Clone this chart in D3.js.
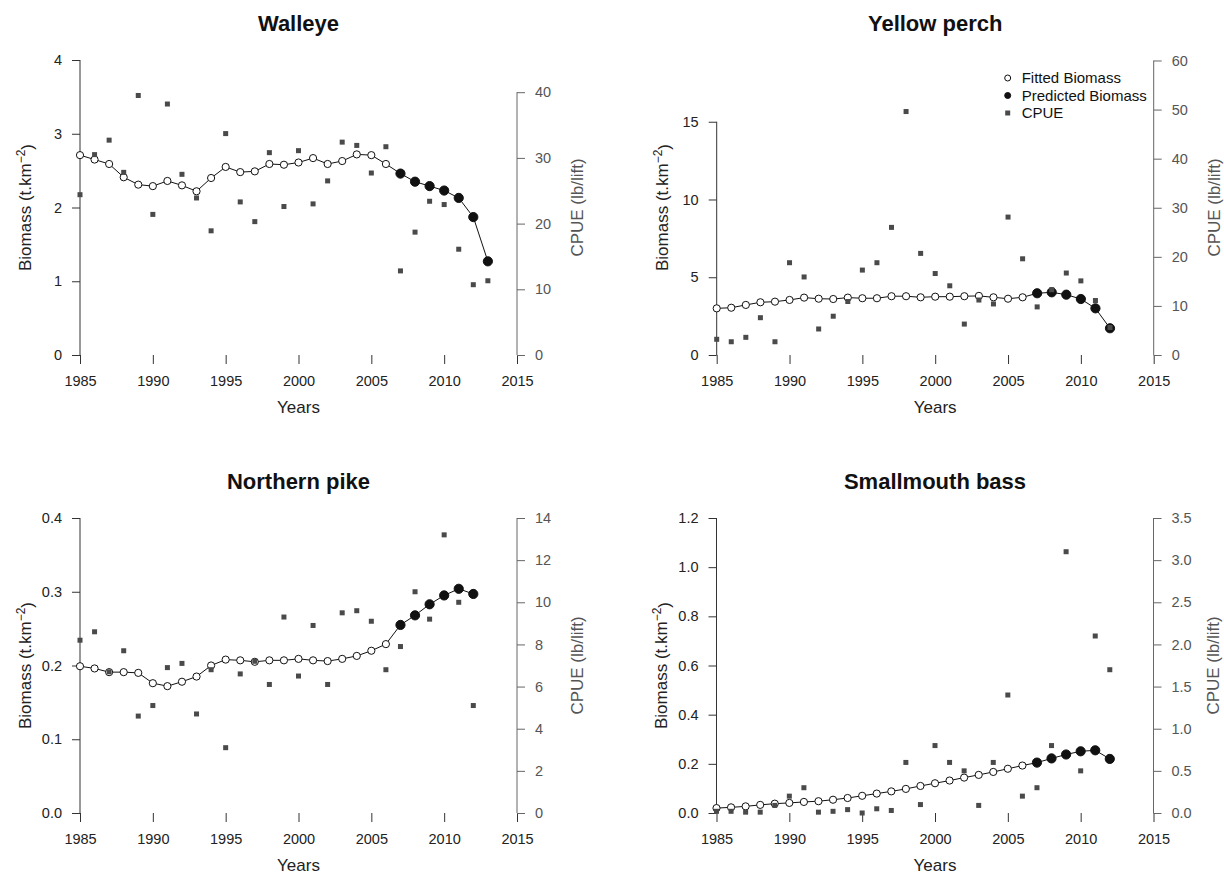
<!DOCTYPE html>
<html>
<head>
<meta charset="utf-8">
<script src="https://cdn.jsdelivr.net/npm/d3@7"></script>
<style>
  body { margin: 0; background: #fff; }
  svg { font-family: "Liberation Sans", Arial, sans-serif; }
</style>
</head>
<body>
<svg id="chart" width="1224" height="875"></svg>
<script>
// Donnees (biomasse ajustee jusqu'en 2006, predite ensuite).
const firstYear = 1985;
const predictedFrom = 2007;
const yearTicks = [1985, 1990, 1995, 2000, 2005, 2010, 2015];

const walleyeBiomass = [2.71, 2.65, 2.59, 2.41, 2.31, 2.29, 2.36, 2.30, 2.22, 2.40, 2.55, 2.48, 2.49, 2.59, 2.58,
    2.61, 2.67, 2.59, 2.63, 2.72, 2.71, 2.59, 2.46, 2.35, 2.29, 2.23, 2.13, 1.87, 1.27];
const walleyeCpue = [24.4, 30.5, 32.7, 27.8, 39.5, 21.4, 38.2, 27.5, 23.9, 18.9, 33.7, 23.3, 20.3, 30.8, 22.6,
    31.1, 23.0, 26.5, 32.4, 31.9, 27.7, 31.7, 12.8, 18.7, 23.4, 22.9, 16.1, 10.7, 11.3];

const perchBiomass = [3.00, 3.04, 3.22, 3.39, 3.43, 3.54, 3.69, 3.62, 3.60, 3.69, 3.65, 3.65, 3.78, 3.78, 3.71,
    3.75, 3.75, 3.78, 3.80, 3.71, 3.62, 3.71, 3.97, 4.03, 3.88, 3.60, 3.00, 1.72];
const perchCpue = [3.2, 2.7, 3.6, 7.6, 2.7, 18.8, 15.9, 5.3, 7.9, 10.9, 17.3, 18.8, 26.0, 49.6, 20.7,
    16.6, 14.1, 6.3, 11.2, 10.4, 28.1, 19.6, 9.8, 13.3, 16.7, 15.1, 11.1, 5.6];

const pikeBiomass = [0.199, 0.196, 0.191, 0.191, 0.190, 0.176, 0.172, 0.178, 0.185, 0.200, 0.208, 0.207, 0.205, 0.207,
    0.207, 0.209, 0.207, 0.206, 0.209, 0.213, 0.220, 0.229, 0.255, 0.268, 0.283, 0.295, 0.304, 0.297];
const pikeCpue = [8.2, 8.6, 6.7, 7.7, 4.6, 5.1, 6.9, 7.1, 4.7, 6.8, 3.1, 6.6, 7.2, 6.1, 9.3,
    6.5, 8.9, 6.1, 9.5, 9.6, 9.1, 6.8, 7.9, 10.5, 9.2, 13.2, 10.0, 5.1];

const bassBiomass = [0.020, 0.023, 0.027, 0.033, 0.038, 0.041, 0.045, 0.048, 0.054, 0.061, 0.070, 0.079, 0.088, 0.098,
    0.110, 0.121, 0.132, 0.144, 0.155, 0.167, 0.180, 0.193, 0.205, 0.222, 0.238, 0.251, 0.255, 0.220];
const bassCpue = [0.02, 0.02, 0.01, 0.01, 0.09, 0.20, 0.30, 0.01, 0.02, 0.04, 0.00, 0.05, 0.03, 0.60, 0.10,
    0.80, 0.60, 0.50, 0.09, 0.60, 1.40, 0.20, 0.30, 0.80, 3.10, 0.50, 2.10, 1.70];

const legendLabels = ["Fitted Biomass", "Predicted Biomass", "CPUE"];

const panels = [
    { title: "Walleye", x: 80, y: 60, biomass: walleyeBiomass, cpue: walleyeCpue,
      leftMax: 4, leftTicks: [0, 1, 2, 3, 4], leftFormat: "d",
      rightMax: 44.9, rightTicks: [0, 10, 20, 30, 40], rightFormat: "d" },
    { title: "Yellow perch", x: 716.7, y: 60, biomass: perchBiomass, cpue: perchCpue,
      leftMax: 18.97, leftTicks: [0, 5, 10, 15], leftFormat: "d",
      rightMax: 60.1, rightTicks: [0, 10, 20, 30, 40, 50, 60], rightFormat: "d", legend: true },
    { title: "Northern pike", x: 80, y: 518, biomass: pikeBiomass, cpue: pikeCpue,
      leftMax: 0.4, leftTicks: [0, 0.1, 0.2, 0.3, 0.4], leftFormat: ".1f",
      rightMax: 14, rightTicks: [0, 2, 4, 6, 8, 10, 12, 14], rightFormat: "d" },
    { title: "Smallmouth bass", x: 716.5, y: 518, biomass: bassBiomass, cpue: bassCpue,
      leftMax: 1.2, leftTicks: [0, 0.2, 0.4, 0.6, 0.8, 1.0, 1.2], leftFormat: ".1f",
      rightMax: 3.5, rightTicks: [0, 0.5, 1, 1.5, 2, 2.5, 3, 3.5], rightFormat: ".1f" }
];

const config = {
    width: 437,
    height: 295,
    darkColor: "#222",
    axisColor: "#333",
    rightColor: "#666",
    rightTextColor: "#555",
    squareColor: "#4a4a4a",
    openRadius: 3.6,
    filledRadius: 4.6,
    squareSize: 5,
    tickFont: 14.5
};

const svg = d3.select("#chart");

panels.forEach(function(p) {
    drawPanel(svg.append("g").attr("transform", "translate(" + p.x + "," + p.y + ")"), p, config);
});

// Dessine un panneau : axes, courbe de biomasse et points CPUE.
function drawPanel(group, p, config) {
    const x = d3.scaleLinear().domain([1985, 2015]).range([0, config.width]);
    const yLeft = d3.scaleLinear().domain([0, p.leftMax]).range([config.height, 0]);
    const yRight = d3.scaleLinear().domain([0, p.rightMax]).range([config.height, 0]);

    const biomass = p.biomass.map(function(v, i) {
        return { year: firstYear + i, value: v };
    });
    const cpue = p.cpue.map(function(v, i) {
        return { year: firstYear + i, value: v };
    });

    // Axe des annees.
    const xAxis = group.append("g")
        .attr("transform", "translate(0," + config.height + ")")
        .call(d3.axisBottom(x).tickValues(yearTicks).tickFormat(d3.format("d")).tickSize(9).tickPadding(12));
    styleAxis(xAxis, config.axisColor, config.darkColor);

    // Axe gauche (biomasse).
    const leftAxis = group.append("g")
        .call(d3.axisLeft(yLeft).tickValues(p.leftTicks).tickFormat(d3.format(p.leftFormat)).tickSize(8).tickPadding(10));
    styleAxis(leftAxis, config.axisColor, config.darkColor);
    leftAxis.append("line")
        .attr("y1", yLeft(p.leftTicks[0]))
        .attr("y2", yLeft(p.leftTicks[p.leftTicks.length - 1]))
        .attr("stroke", config.axisColor);

    // Axe droit (CPUE), gris.
    const rightAxis = group.append("g")
        .attr("transform", "translate(" + config.width + ",0)")
        .call(d3.axisRight(yRight).tickValues(p.rightTicks).tickFormat(d3.format(p.rightFormat)).tickSize(8).tickPadding(10));
    styleAxis(rightAxis, config.rightColor, config.rightTextColor);
    rightAxis.append("line")
        .attr("y1", yRight(p.rightTicks[0]))
        .attr("y2", yRight(p.rightTicks[p.rightTicks.length - 1]))
        .attr("stroke", config.rightColor);

    // Trait de la courbe de biomasse.
    const line = d3.line()
        .x(function(d) { return x(d.year); })
        .y(function(d) { return yLeft(d.value); });

    group.append("path")
        .datum(biomass)
        .attr("d", line)
        .attr("fill", "none")
        .attr("stroke", "#111")
        .attr("stroke-width", 1);

    group.selectAll(".bio")
        .data(biomass)
        .enter()
        .append("circle")
        .attr("class", "bio")
        .attr("cx", function(d) { return x(d.year); })
        .attr("cy", function(d) { return yLeft(d.value); })
        .attr("r", function(d) { return d.year >= predictedFrom ? config.filledRadius : config.openRadius; })
        .attr("fill", function(d) { return d.year >= predictedFrom ? "#111" : "white"; })
        .attr("stroke", "#111")
        .attr("stroke-width", 1);

    // Les carres CPUE passent par-dessus, comme dans la figure d'origine.
    group.selectAll(".cpue")
        .data(cpue)
        .enter()
        .append("rect")
        .attr("class", "cpue")
        .attr("x", function(d) { return x(d.year) - config.squareSize / 2; })
        .attr("y", function(d) { return yRight(d.value) - config.squareSize / 2; })
        .attr("width", config.squareSize)
        .attr("height", config.squareSize)
        .attr("fill", config.squareColor);

    // Titres.
    group.append("text")
        .attr("x", config.width / 2)
        .attr("y", -29)
        .attr("text-anchor", "middle")
        .attr("font-size", 22)
        .attr("font-weight", "bold")
        .attr("fill", "#111")
        .text(p.title);

    group.append("text")
        .attr("x", config.width / 2)
        .attr("y", config.height + 58)
        .attr("text-anchor", "middle")
        .attr("font-size", 17)
        .attr("fill", config.darkColor)
        .text("Years");

    const leftTitle = group.append("text")
        .attr("transform", "translate(-55," + config.height / 2 + ") rotate(-90)")
        .attr("text-anchor", "middle")
        .attr("dy", "0.35em")
        .attr("font-size", 17)
        .attr("fill", config.darkColor);
    leftTitle.append("tspan").text("Biomass (t.km");
    leftTitle.append("tspan").attr("dy", "-0.5em").attr("font-size", 12).text("\u22122");
    leftTitle.append("tspan").attr("dy", "0.5em").text(")");

    group.append("text")
        .attr("transform", "translate(" + (config.width + 60) + "," + config.height / 2 + ") rotate(-90)")
        .attr("text-anchor", "middle")
        .attr("dy", "0.35em")
        .attr("font-size", 17)
        .attr("fill", config.rightTextColor)
        .text("CPUE (lb/lift)");

    if (p.legend) {
        drawLegend(group, config);
    }
}

// Style commun des axes : pas de ligne de domaine D3, on trace la notre.
function styleAxis(axis, lineColor, textColor) {
    axis.select(".domain").remove();
    axis.selectAll(".tick line").attr("stroke", lineColor);
    axis.selectAll(".tick text")
        .attr("fill", textColor)
        .attr("font-size", config.tickFont)
        .attr("font-family", "Liberation Sans, Arial, sans-serif");
}

function drawLegend(group, config) {
    const legend = group.append("g").attr("transform", "translate(291,18)");
    const rows = legend.selectAll(".legend-row")
        .data(legendLabels)
        .enter()
        .append("g")
        .attr("class", "legend-row")
        .attr("transform", function(_, i) { return "translate(0," + i * 17.5 + ")"; });

    rows.each(function(label, i) {
        const row = d3.select(this);
        if (i === 2) {
            row.append("rect").attr("x", -2.5).attr("y", -2.5).attr("width", 5).attr("height", 5)
                .attr("fill", config.squareColor);
        } else {
            row.append("circle").attr("r", 3)
                .attr("fill", i === 1 ? "#111" : "white")
                .attr("stroke", "#111");
        }
        row.append("text")
            .attr("x", 14)
            .attr("dy", "0.35em")
            .attr("font-size", 15)
            .attr("fill", "#111")
            .text(label);
    });
}
</script>
</body>
</html>
